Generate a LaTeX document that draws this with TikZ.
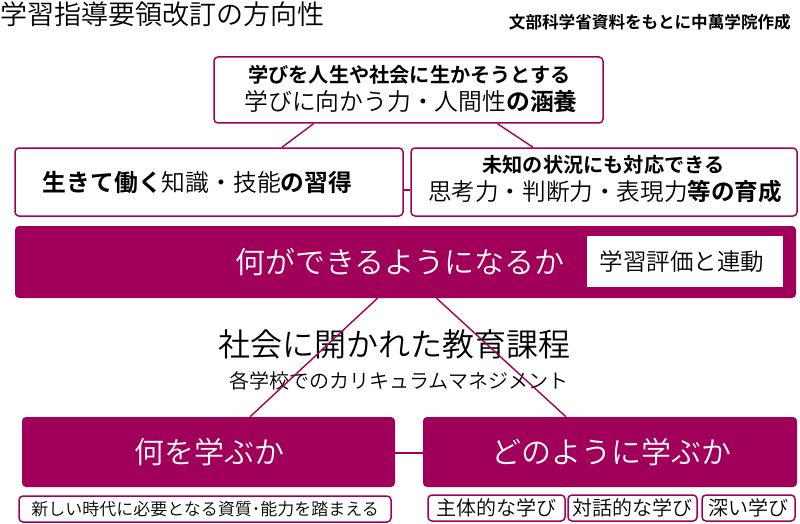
\documentclass[tikz,border=0pt]{standalone}
\usepackage{fontspec}
\setmainfont{Noto Sans CJK JP DemiLight}[BoldFont={Noto Sans CJK JP Bold}]
\definecolor{ebi}{RGB}{160,0,90}
\newcommand{\pxsize}[1]{\fontsize{#1}{#1}\selectfont}

\begin{document}
\begin{tikzpicture}[x=1pt,y=-1pt]
  \tikzset{waku/.style={draw=ebi,line width=1.5pt,rounded corners=4pt,fill=white,inner sep=0pt},
           obi/.style={fill=ebi,rounded corners=4pt,inner sep=0pt},
           moji/.style={inner sep=0pt,font=\pxsize{#1}},
           sen/.style={draw=ebi,line width=1.4pt}}
  \useasboundingbox (0,0) rectangle (800,524);

  \node[moji=27,anchor=west] (title) at (0,14) {学習指導要領改訂の方向性};
  \node[moji=16.6,anchor=east] (source) at (791,22) {\bfseries 文部科学省資料をもとに中萬学院作成};

  % three pillars
  \node[waku,minimum width=389,minimum height=66] (ningensei) at (408.5,90) {};
  \node[moji=20.2] at (409.5,75) {\bfseries 学びを人生や社会に生かそうとする};
  \node[moji=23.8] at (411,101.5) {学びに向かう力・人間性\textbf{の涵養}};

  \node[waku,minimum width=388,minimum height=68] (chishiki) at (209,182) {};
  \node[moji=23.8] at (197.5,182.5) {\textbf{生きて働く}知識・技能\textbf{の習得}};

  \node[waku,minimum width=386,minimum height=68] (shikou) at (604,182) {};
  \node[moji=20.2] at (603.5,165) {\bfseries 未知の状況にも対応できる};
  \node[moji=23.6] at (605,191.5) {思考力・判断力・表現力\textbf{等の育成}};

  \node[obi,minimum width=781,minimum height=72] (dekiru) at (405.5,262) {};
  \node[moji=30,text=white] at (400,262) {何ができるようになるか};
  \node[fill=white,minimum width=196,minimum height=51,inner sep=0pt] (hyoka) at (685,261.5) {};
  \node[moji=23.5] at (682,261.5) {学習評価と連動};

  \node[moji=32] (katei) at (394,344) {社会に開かれた教育課程};
  \node[moji=20] (cm) at (399,381) {各学校でのカリキュラムマネジメント};

  \node[obi,minimum width=373,minimum height=70] (nani) at (208.5,452) {};
  \node[moji=30,text=white] at (209,452) {何を学ぶか};
  \node[obi,minimum width=374,minimum height=70] (dou) at (610,452) {};
  \node[moji=30,text=white] at (611,452) {どのように学ぶか};

  \node[waku,minimum width=372,minimum height=26,moji=17] (shishitsu) at (205,509) {新しい時代に必要となる資質･能力を踏まえる};
  \node[waku,minimum width=137,minimum height=26,moji=20] (shutai) at (496.5,508) {主体的な学び};
  \node[waku,minimum width=129,minimum height=26,moji=20] (taiwa) at (632.5,508) {対話的な学び};
  \node[waku,minimum width=93,minimum height=26,moji=20] (fukai) at (748.5,508) {深い学び};

  % connectors
  \draw[sen] ([xshift=-95pt]ningensei.south) -- ([xshift=73pt]chishiki.north);
  \draw[sen] ([xshift=89pt]ningensei.south) -- ([xshift=-71pt]shikou.north);
  \draw[sen] ([yshift=-8pt]chishiki.east) -- ([yshift=-8pt]shikou.west);
  \draw[sen] ([xshift=-28pt]dekiru.south) -- ([xshift=41.5pt]nani.north);
  \draw[sen] ([xshift=31pt]dekiru.south) -- ([xshift=-44pt]dou.north);
  \draw[sen] ([yshift=-1pt]nani.east) -- ([yshift=-1pt]dou.west);
\end{tikzpicture}
\end{document}
